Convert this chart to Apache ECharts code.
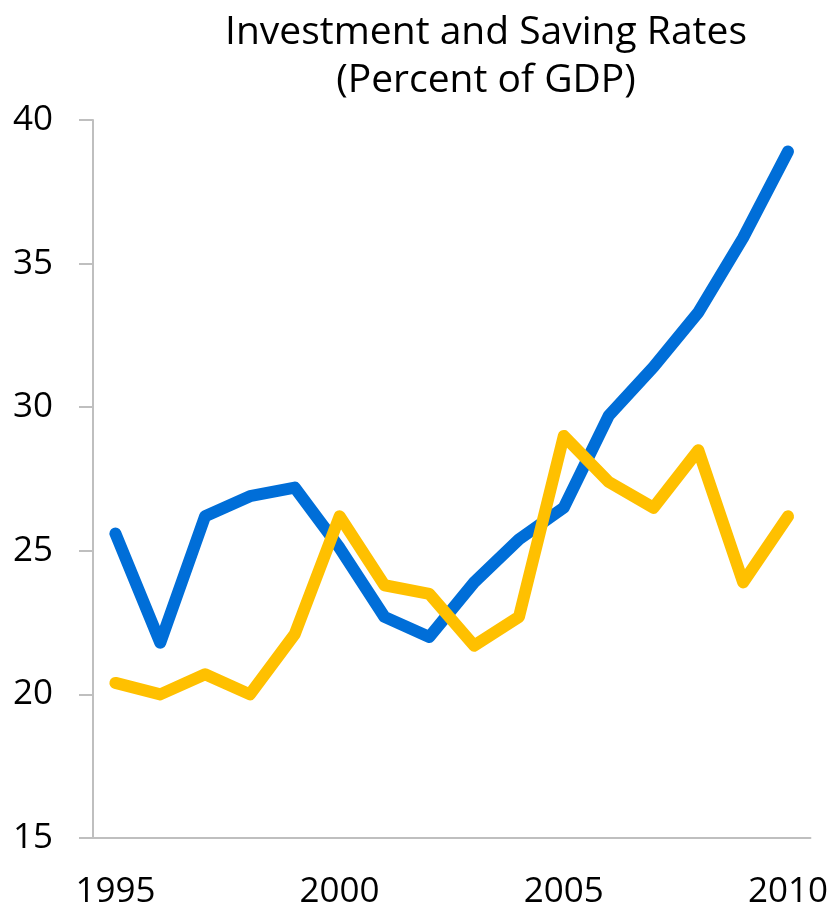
<!DOCTYPE html>
<html>
<head>
<meta charset="utf-8">
<script src="https://cdn.jsdelivr.net/npm/echarts@6/dist/echarts.min.js"></script>
<style>
  html, body { margin: 0; padding: 0; background: #fff; }
  #chart { width: 831px; height: 911px; }
</style>
</head>
<body>
<div id="chart"></div>
<script>
// Years on the horizontal axis
const years = ['1995','1996','1997','1998','1999','2000','2001','2002','2003',
               '2004','2005','2006','2007','2008','2009','2010'];
// Gross investment, percent of GDP
const investment = [25.6, 21.8, 26.2, 26.9, 27.2, 25.1, 22.7, 22.0, 23.9,
                    25.4, 26.5, 29.7, 31.4, 33.3, 35.9, 38.9];
// Gross national saving, percent of GDP
const saving = [20.4, 20.0, 20.7, 20.0, 22.1, 26.2, 23.8, 23.5, 21.7,
                22.7, 29.0, 27.4, 26.5, 28.5, 23.9, 26.2];

const titleText = 'Investment and Saving Rates\n(Percent of GDP)';
const fontFamily = '"Open Sans", "Noto Sans", sans-serif';
const axisGray = '#BFBFBF';

const chart = echarts.init(document.getElementById('chart'), null, { renderer: 'canvas' });
chart.setOption({
  animation: false,
  backgroundColor: '#ffffff',
  title: {
    text: titleText,
    left: 481,
    textAlign: 'center',
    top: 4,
    textStyle: {
      fontFamily: fontFamily,
      fontWeight: 'normal',
      fontSize: 39,
      lineHeight: 48,
      color: '#000'
    }
  },
  grid: { left: 93, right: 20, top: 120, bottom: 73, containLabel: false },
  xAxis: {
    type: 'category',
    data: years,
    boundaryGap: true,
    axisLine: { lineStyle: { color: axisGray, width: 2 } },
    axisTick: { show: false },
    axisLabel: {
      interval: 4,
      margin: 37,
      fontFamily: fontFamily,
      fontSize: 35,
      color: '#000'
    }
  },
  yAxis: {
    type: 'value',
    min: 15,
    max: 40,
    interval: 5,
    splitLine: { show: false },
    axisLine: { show: true, lineStyle: { color: axisGray, width: 2 } },
    axisTick: { show: true, length: 14, lineStyle: { color: axisGray, width: 2 } },
    axisLabel: {
      margin: 40,
      fontFamily: fontFamily,
      fontSize: 35,
      color: '#000'
    }
  },
  series: [
    {
      name: 'Investment',
      type: 'line',
      data: investment,
      symbol: 'none',
      lineStyle: { color: '#006ED8', width: 12, cap: 'round', join: 'round' },
      z: 2
    },
    {
      name: 'Saving',
      type: 'line',
      data: saving,
      symbol: 'none',
      lineStyle: { color: '#FFC000', width: 12, cap: 'round', join: 'round' },
      z: 3
    }
  ]
});
</script>
</body>
</html>
